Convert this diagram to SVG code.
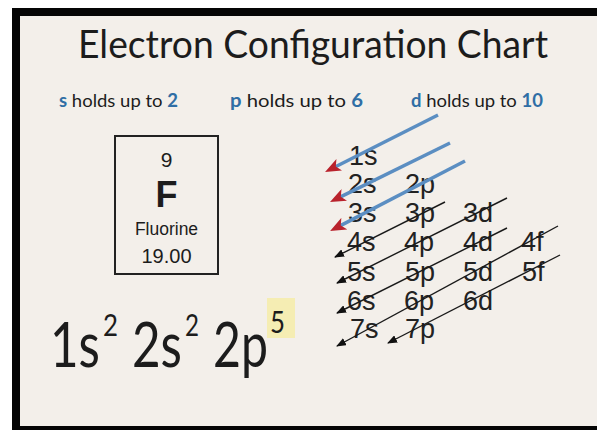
<svg xmlns="http://www.w3.org/2000/svg" width="597" height="430" viewBox="0 0 597 430">
  <style>
    .cal { font-family: Lato, "Open Sans", "Liberation Sans", sans-serif; fill: #1c1c1c; }
    .sub { font-size: 18px; }
    .hl { fill: #2f6ea5; font-weight: bold; }
    .ari { font-family: "Liberation Sans", Arial, sans-serif; fill: #1c1c1c; text-anchor: middle; }
    .orb { font-family: "Liberation Sans", Arial, sans-serif; fill: #222; font-size: 27px; }
    .blk { stroke: #1a1a1a; stroke-width: 1.4; fill: none; marker-end: url(#bh); }
    .blu { stroke: #5b8ec2; stroke-width: 3.5; fill: none; marker-end: url(#rh); }
  </style>
  <defs>
    <marker id="bh" viewBox="0 0 10 8" refX="9" refY="4" markerWidth="10" markerHeight="8" markerUnits="userSpaceOnUse" orient="auto">
      <path d="M0,0 L10,4 L0,8 z" fill="#111"/>
    </marker>
    <marker id="rh" viewBox="0 0 16 13" refX="6" refY="6.5" markerWidth="16" markerHeight="13" markerUnits="userSpaceOnUse" orient="auto">
      <path d="M0,0 L16,6.5 L0,13 L4,6.5 z" fill="#b9222c"/>
    </marker>
  </defs>

  <!-- frame -->
  <rect x="0" y="0" width="597" height="430" fill="#ffffff"/>
  <rect x="12" y="8" width="585" height="422" fill="#050505"/>
  <rect x="20" y="16" width="577" height="410" fill="#f3efea"/>

  <g id="title">
    <text class="cal" x="78" y="58" font-size="38" textLength="470" lengthAdjust="spacingAndGlyphs">Electron Configuration Chart</text>
  </g>

  <g id="capacity-s">
    <text class="cal sub" x="59" y="107" textLength="119" lengthAdjust="spacingAndGlyphs"><tspan class="hl">s</tspan> holds up to <tspan class="hl">2</tspan></text>
  </g>
  <g id="capacity-p">
    <text class="cal sub" x="230" y="107" textLength="133" lengthAdjust="spacingAndGlyphs"><tspan class="hl">p</tspan> holds up to <tspan class="hl">6</tspan></text>
  </g>
  <g id="capacity-d">
    <text class="cal sub" x="411" y="107" textLength="132" lengthAdjust="spacingAndGlyphs"><tspan class="hl">d</tspan> holds up to <tspan class="hl">10</tspan></text>
  </g>

  <g id="element-fluorine">
    <rect x="115" y="136" width="103" height="138" fill="none" stroke="#222" stroke-width="2"/>
    <text class="ari" x="166.5" y="167" font-size="21">9</text>
    <text class="ari" x="166.5" y="207" font-size="36" font-weight="bold">F</text>
    <text class="ari" x="166.5" y="235" font-size="17.5">Fluorine</text>
    <text class="ari" x="166.5" y="263" font-size="20">19.00</text>
  </g>

  <g id="configuration">
    <rect x="267" y="298" width="28" height="40" fill="#f5edb3"/>
    <text class="cal" x="50" y="367" font-size="62" textLength="50" lengthAdjust="spacingAndGlyphs">1s</text>
    <text class="cal" x="103" y="336" font-size="30" textLength="15" lengthAdjust="spacingAndGlyphs">2</text>
    <text class="cal" x="132" y="367" font-size="62" textLength="50" lengthAdjust="spacingAndGlyphs">2s</text>
    <text class="cal" x="185" y="336" font-size="30" textLength="14" lengthAdjust="spacingAndGlyphs">2</text>
    <text class="cal" x="213" y="367" font-size="62" textLength="55" lengthAdjust="spacingAndGlyphs">2p</text>
    <text class="cal" x="270" y="333" font-size="30" textLength="15" lengthAdjust="spacingAndGlyphs">5</text>
  </g>

  <g id="orbitals">
    <text id="o1s" class="orb" x="349" y="165">1s</text>
    <text id="o2s" class="orb" x="348" y="193">2s</text>
    <text id="o2p" class="orb" x="405" y="193">2p</text>
    <text id="o3s" class="orb" x="348" y="222">3s</text>
    <text id="o3p" class="orb" x="405" y="222">3p</text>
    <text id="o3d" class="orb" x="463" y="222">3d</text>
    <text id="o4s" class="orb" x="347" y="251">4s</text>
    <text id="o4p" class="orb" x="404" y="251">4p</text>
    <text id="o4d" class="orb" x="463" y="251">4d</text>
    <text id="o4f" class="orb" x="521" y="251">4f</text>
    <text id="o5s" class="orb" x="347" y="281">5s</text>
    <text id="o5p" class="orb" x="405" y="281">5p</text>
    <text id="o5d" class="orb" x="463" y="281">5d</text>
    <text id="o5f" class="orb" x="522" y="281">5f</text>
    <text id="o6s" class="orb" x="347" y="310">6s</text>
    <text id="o6p" class="orb" x="404" y="310">6p</text>
    <text id="o6d" class="orb" x="463" y="310">6d</text>
    <text id="o7s" class="orb" x="350" y="338">7s</text>
    <text id="o7p" class="orb" x="405" y="338">7p</text>
  </g>

  <g id="connectors">
    <line class="blu" x1="438" y1="115" x2="334" y2="167.5"/>
    <line class="blu" x1="450" y1="143" x2="339" y2="197.6"/>
    <line class="blu" x1="465" y1="161" x2="339" y2="226.4"/>
    <line class="blk" x1="445" y1="202" x2="335" y2="257"/>
    <line class="blk" x1="507" y1="198" x2="337" y2="283"/>
    <line class="blk" x1="507" y1="228" x2="337" y2="313"/>
    <line class="blk" x1="558" y1="226" x2="337" y2="346"/>
    <line class="blk" x1="560" y1="255" x2="388" y2="343"/>
  </g>
</svg>
